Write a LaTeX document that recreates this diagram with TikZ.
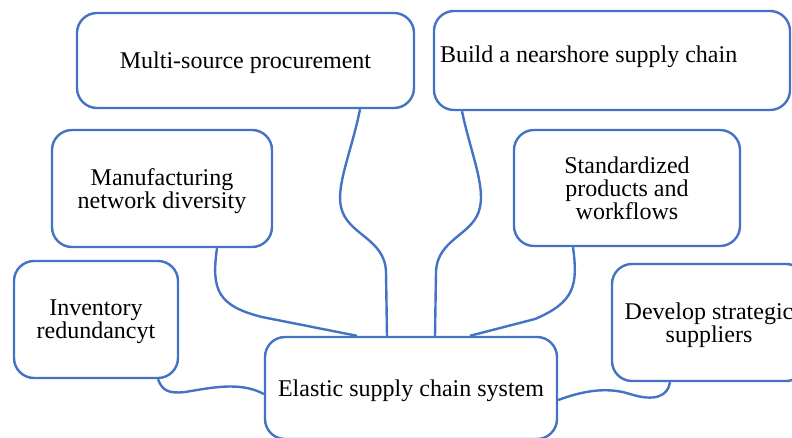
\documentclass[tikz,border=0pt]{standalone}
\usepackage{fontspec}
\setmainfont{Liberation Serif}
\usepackage{tikz}
\definecolor{boxblue}{HTML}{4472C4}

\begin{document}
\begin{tikzpicture}[x=1pt,y=-1pt,
		box/.style={draw=boxblue,line width=2.4pt,rounded corners=20pt,fill=white,align=center,inner sep=0pt,text depth=0pt,font=\fontsize{24}{23}\selectfont},
		link/.style={draw=boxblue,line width=2.4pt}]
		\useasboundingbox (0,0) rectangle (792,437);
		\clip (0,0) rectangle (792,437);
		\node[box,minimum width=337pt,minimum height=95pt] (multi) at (245.5,60.5) {Multi-source procurement};
		\node[box,minimum width=356pt,minimum height=99pt] (nearshore) at (612,60.5) {};
		\node[anchor=west,inner sep=0pt,font=\fontsize{24}{23}\selectfont] (nearlabel) at ([xshift=7pt,yshift=4pt]nearshore.west) {Build a nearshore supply chain};
		\node[box,minimum width=220pt,minimum height=117pt] (manuf) at (162,188.5) {Manufacturing\\network diversity};
		\node[box,minimum width=226pt,minimum height=116pt] (stand) at (627,188) {Standardized\\products and\\workflows};
		\node[box,minimum width=164pt,minimum height=117pt] (invent) at (96,319.5) {Inventory\\redundancyt};
		\node[box,minimum width=194pt,minimum height=117pt] (develop) at (709,322.5) {Develop strategic\\suppliers};
		\node[box,minimum width=292pt,minimum height=102pt] (elastic) at (411,388) {Elastic supply chain system};
		\draw[link] ([xshift=114.5pt]multi.south) .. controls (352,150) and (336,185) .. (341,207) .. controls (347,235) and (385,238) .. (386,272) -- ([xshift=-24pt]elastic.north);
		\draw[link] ([xshift=-150pt]nearshore.south) .. controls (470,150) and (485,185) .. (480,207) .. controls (475,235) and (437,238) .. (436,272) -- ([xshift=24pt]elastic.north);
		\draw[link] ([xshift=55pt]manuf.south) .. controls (211,290) and (218,306) .. (262,317) -- ([xshift=-54pt]elastic.north);
		\draw[link] ([xshift=-54pt]stand.south) .. controls (578,285) and (575,302) .. (535,319) -- ([xshift=59pt]elastic.north);
		\draw[link] ([xshift=62pt]invent.south) .. controls (162,390) and (168,394) .. (185,392) .. controls (210,388) and (240,381) .. ([yshift=-6pt]elastic.west);
		\draw[link] ([yshift=-12pt]elastic.east) .. controls (580,392) and (605,386) .. (630,394) .. controls (655,402) and (668,396) .. ([xshift=-39pt]develop.south);
	\end{tikzpicture}
\end{document}
